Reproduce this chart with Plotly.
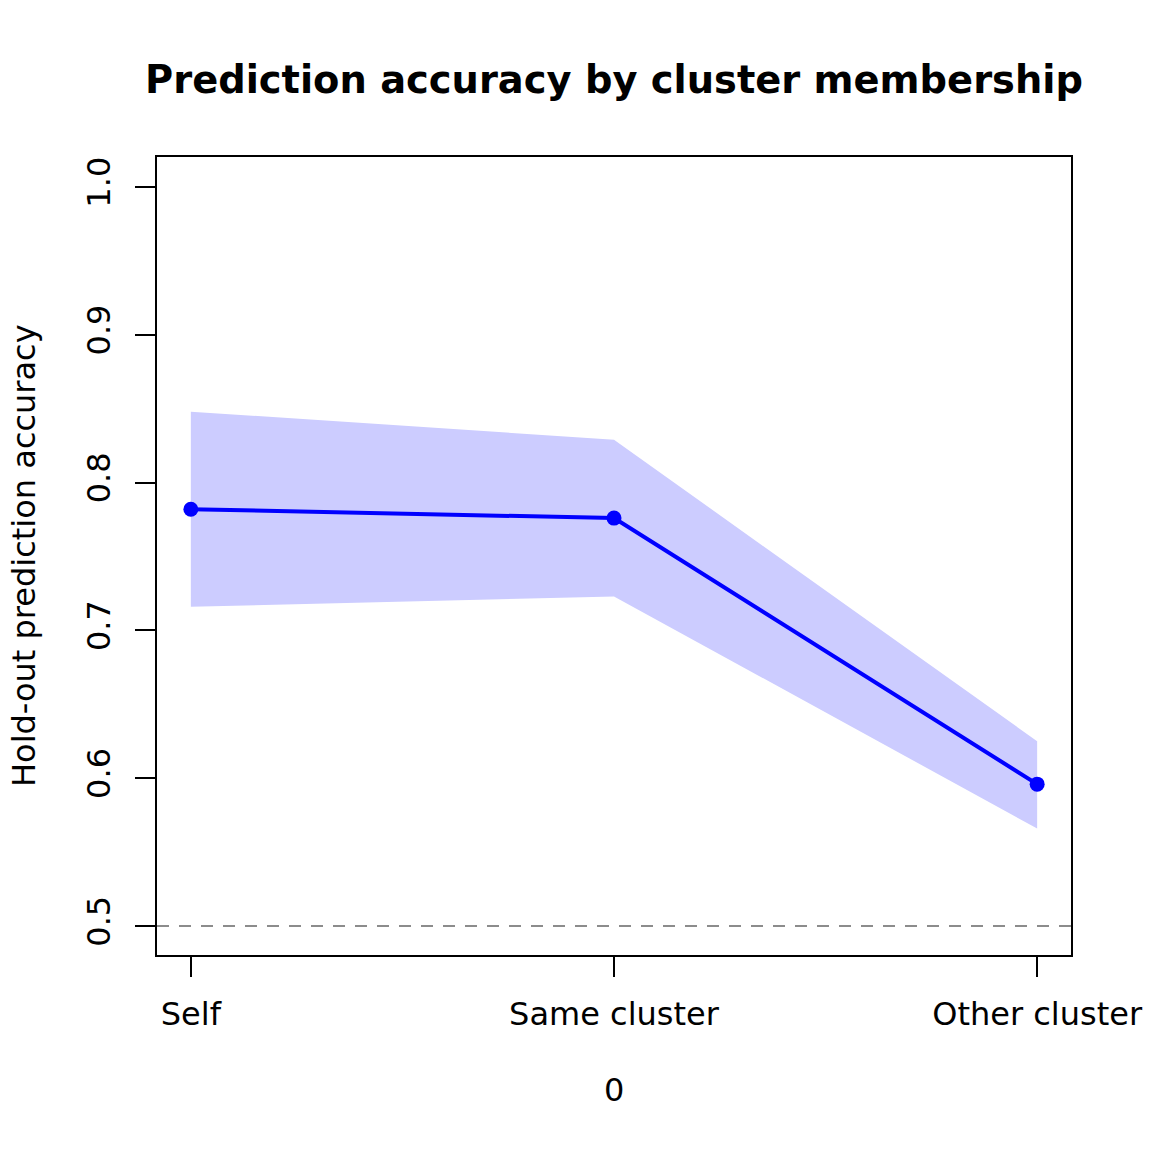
import plotly.graph_objects as go

# data
groups = ["Self", "Same cluster", "Other cluster"]
group_pos = [1, 2, 3]
accuracy = [0.782, 0.776, 0.596]
upper = [0.848, 0.829, 0.625]
lower = [0.716, 0.723, 0.566]
y_ticks = [0.5, 0.6, 0.7, 0.8, 0.9, 1.0]
chance = 0.5

FONT = "DejaVu Sans, Arial, sans-serif"
BLUE = "#0000ff"
BAND = "#ccccff"

fig = go.Figure()
fig.add_trace(go.Scatter(x=group_pos, y=upper, mode="lines", line={"width": 0, "color": BAND},
                         hoverinfo="skip", showlegend=False))
fig.add_trace(go.Scatter(x=group_pos, y=lower, mode="lines", line={"width": 0, "color": BAND},
                         fill="tonexty", fillcolor=BAND, hoverinfo="skip", showlegend=False))
fig.add_trace(go.Scatter(x=group_pos, y=accuracy, mode="lines+markers",
                         line={"color": BLUE, "width": 4}, marker={"color": BLUE, "size": 15},
                         showlegend=False))
fig.add_hline(y=chance, line={"color": "#8c8c8c", "width": 2, "dash": "12px,10px"})

# the page body has an 8px margin, so the margins are shifted to compensate
fig.update_layout(
    width=1152, height=1152,
    paper_bgcolor="white", plot_bgcolor="white",
    font={"family": FONT, "size": 32, "color": "black"},
    margin={"l": 149, "r": 89, "t": 149, "b": 205},
    title={"text": "<b>Prediction accuracy by cluster membership</b>", "x": 0.5, "xref": "paper",
           "y": 1 - 72 / 1152, "yanchor": "middle", "font": {"size": 38.4}},
    xaxis={"range": [0.92, 3.08], "tickvals": group_pos, "ticktext": groups, "showgrid": False,
           "zeroline": False, "showline": True, "mirror": True, "linecolor": "black", "linewidth": 2,
           "ticks": "outside", "ticklen": 20, "tickwidth": 2, "tickcolor": "black",
           "ticklabelstandoff": 10},
    yaxis={"range": [0.4804, 1.0203], "tickvals": y_ticks, "tickformat": ".1f", "tickangle": -90,
           "showgrid": False, "zeroline": False, "showline": True, "mirror": True, "linecolor": "black",
           "linewidth": 2, "ticks": "outside", "ticklen": 20, "tickwidth": 2, "tickcolor": "black",
           "ticklabelstandoff": 12},
    annotations=[
        {"text": "0", "xref": "paper", "yref": "paper", "x": 0.5, "y": -(1090 - 955) / 798,
         "showarrow": False, "yanchor": "middle", "font": {"size": 32}},
        {"text": "Hold-out prediction accuracy", "xref": "paper", "yref": "paper",
         "x": -(157 - 4) / 914, "y": 0.5, "textangle": -90, "showarrow": False,
         "xanchor": "left", "borderpad": 0, "font": {"size": 32}},
    ],
)

fig.write_html("out.html")
